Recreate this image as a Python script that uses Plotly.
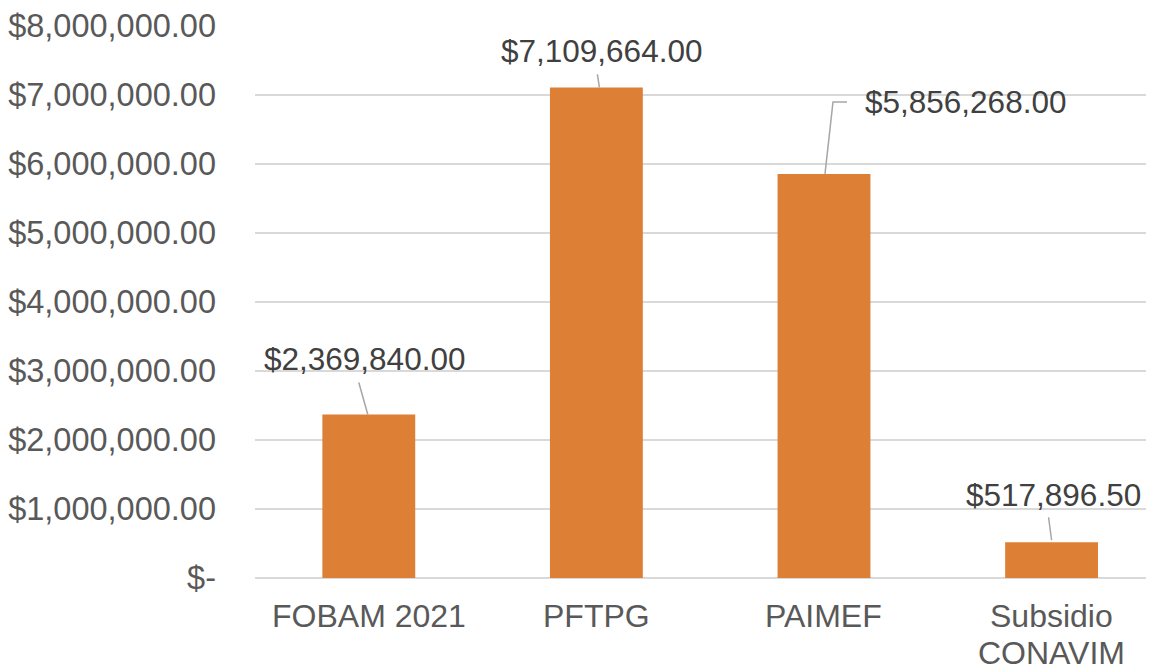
import plotly.graph_objects as go

categories = ["FOBAM 2021", "PFTPG", "PAIMEF", "Subsidio<br>CONAVIM"]
values = [2369840.00, 7109664.00, 5856268.00, 517896.50]
value_labels = ["$2,369,840.00", "$7,109,664.00", "$5,856,268.00", "$517,896.50"]
y_tick_vals = [0, 1e6, 2e6, 3e6, 4e6, 5e6, 6e6, 7e6, 8e6]
y_tick_text = ["$-", "$1,000,000.00", "$2,000,000.00", "$3,000,000.00", "$4,000,000.00",
               "$5,000,000.00", "$6,000,000.00", "$7,000,000.00", "$8,000,000.00"]

FONT = "Liberation Sans, Arial, sans-serif"
BAR = "#DD7F35"
LEADER = "#A6A6A6"

fig = go.Figure()
fig.add_trace(go.Bar(x=list(range(len(categories))), y=values, marker=dict(color=BAR, line=dict(width=0)),
                     hoverinfo="skip"))

# label placement (pixel offsets relative to bar top): text shift, leader path
label_pos = [
    dict(xs=-4, ys=55, anchor="center", path="M -1,0 L -10,32"),
    dict(xs=5, ys=36, anchor="center", path="M 3,0 L 1,13"),
    dict(xs=39, ys=72, anchor="left", path="M 1,0 L 9,72 L 23,72"),
    dict(xs=2, ys=47, anchor="center", path="M 0,2 L -3,25"),
]

for i, (v, lab, p) in enumerate(zip(values, value_labels, label_pos)):
    fig.add_annotation(x=i, y=v, xref="x", yref="y", text=lab, showarrow=False,
                       xanchor=p["anchor"], yanchor="middle", xshift=p["xs"], yshift=p["ys"],
                       font=dict(family=FONT, size=31.5, color="#404040"))
    fig.add_shape(type="path", xref="x", yref="y", xsizemode="pixel", ysizemode="pixel",
                  xanchor=i, yanchor=v, path=p["path"],
                  line=dict(color=LEADER, width=1.5))

# category labels (multi-line with tight spacing)
for i, cat in enumerate(categories):
    for k, line in enumerate(cat.split("<br>")):
        fig.add_annotation(x=i, y=0, xref="x", yref="paper", text=line, showarrow=False,
                           xanchor="center", yanchor="middle", yshift=-38 - 37 * k,
                           font=dict(family=FONT, size=32, color="#595959"))

fig.update_layout(
    width=1146, height=660,
    margin=dict(l=245, r=0, t=18, b=90),
    paper_bgcolor="white", plot_bgcolor="white",
    bargap=0.592, showlegend=False,
    font=dict(family=FONT, size=32, color="#595959"),
)
fig.update_xaxes(range=[-0.5, 3.45], showticklabels=False,
                 showgrid=False, zeroline=False, showline=False, ticks="")
fig.update_yaxes(range=[0, 8e6], tickvals=y_tick_vals, ticktext=y_tick_text,
                 showgrid=True, gridcolor="#D9D9D9", gridwidth=1.5,
                 zeroline=True, zerolinecolor="#D9D9D9", zerolinewidth=1.5, showline=False,
                 ticks="", tickfont=dict(family=FONT, size=32.5, color="#595959"),
                 ticklabelstandoff=38)

fig.write_html("out.html")
